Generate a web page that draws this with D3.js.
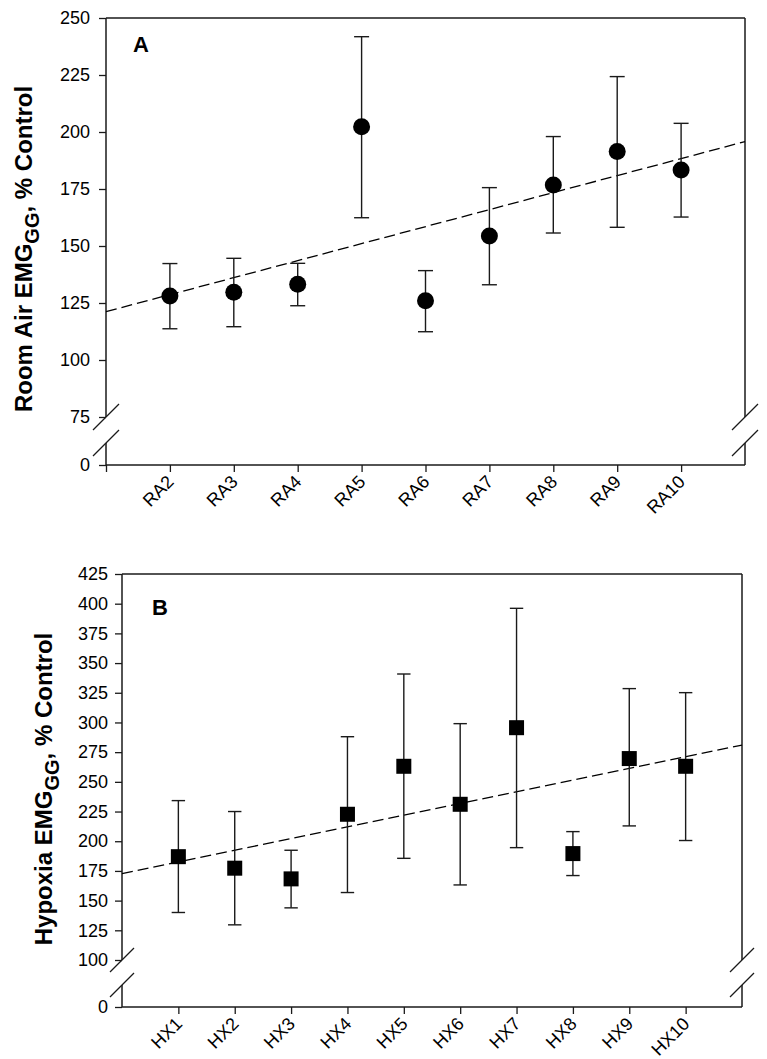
<!DOCTYPE html>
<html>
<head>
<meta charset="utf-8">
<script src="https://cdn.jsdelivr.net/npm/d3@7"></script>
<style>
  html, body { margin: 0; padding: 0; background: #fff; }
  svg { display: block; }
  text { font-family: Arial, "Liberation Sans", sans-serif; fill: #000; }
</style>
</head>
<body>
<svg id="chart" width="767" height="1059"></svg>
<script>
// ---------- Data ----------
const categoriesA = ["RA2","RA3","RA4","RA5","RA6","RA7","RA8","RA9","RA10"];
const meansA  = [128.1, 129.7, 133.2, 202.3, 126.0, 154.4, 176.8, 191.4, 183.3];
const upperA  = [142.3, 144.6, 142.4, 241.8, 139.2, 175.6, 198.0, 224.3, 203.8];
const lowerA  = [113.7, 114.6, 123.8, 162.4, 112.4, 133.0, 155.7, 158.2, 162.7];
const trendA  = [121.2, 195.8];          // dashed line values at x = 0 and x = 10
const yTicksA = [75, 100, 125, 150, 175, 200, 225, 250];

const categoriesB = ["HX1","HX2","HX3","HX4","HX5","HX6","HX7","HX8","HX9","HX10"];
const meansB  = [187.0, 177.3, 168.3, 222.7, 263.1, 231.1, 295.6, 189.6, 269.6, 263.1];
const upperB  = [234.2, 225.0, 192.4, 288.0, 340.8, 299.0, 396.1, 208.1, 328.5, 325.1];
const lowerB  = [140.0, 129.6, 143.9, 156.8, 185.6, 163.2, 194.6, 171.1, 212.9, 200.6];
const trendB  = [172.7, 281.0];          // dashed line values at x = 0 and x = 11
const yTicksB = [100, 125, 150, 175, 200, 225, 250, 275, 300, 325, 350, 375, 400, 425];

const svg = d3.select("#chart");
const ink = "#1a1a1a";
const FONT = "Arial, 'Liberation Sans', sans-serif";

function panel(cfg) {
  const g = svg.append("g");
  const { x, y, y0, cats, means, upper, lower, trend, yTicks, breakVal } = cfg;
  const [xl, xr] = x.range();
  const yTop = y.range()[1];
  const yBot = y0(0);

  // frame: top, bottom, left/right with break
  g.append("line").attr("x1", xl).attr("x2", xr).attr("y1", yTop).attr("y2", yTop)
    .attr("stroke", ink).attr("stroke-width", 1.5);
  g.append("line").attr("x1", xl).attr("x2", xr).attr("y1", yBot).attr("y2", yBot)
    .attr("stroke", ink).attr("stroke-width", 1.5);
  [xl, xr].forEach(xx => {
    g.append("line").attr("x1", xx).attr("x2", xx).attr("y1", yTop).attr("y2", y(breakVal))
      .attr("stroke", ink).attr("stroke-width", 1.5);
    g.append("line").attr("x1", xx).attr("x2", xx).attr("y1", y0(breakVal)).attr("y2", yBot)
      .attr("stroke", ink).attr("stroke-width", 1.5);
    [y(breakVal), y0(breakVal)].forEach(yy => {
      g.append("line").attr("x1", xx - cfg.slash).attr("y1", yy + cfg.slash)
        .attr("x2", xx + cfg.slash).attr("y2", yy - cfg.slash)
        .attr("stroke", ink).attr("stroke-width", 1.3);
    });
  });

  // y axis (upper segment)
  const ay = g.append("g").attr("transform", `translate(${xl},0)`)
    .call(d3.axisLeft(y).tickValues(yTicks).tickSize(7).tickPadding(cfg.pad).tickFormat(d3.format("d")));
  // y axis (lower segment, 0)
  const ay0 = g.append("g").attr("transform", `translate(${xl},0)`)
    .call(d3.axisLeft(y0).tickValues([0]).tickSize(7).tickPadding(cfg.pad).tickFormat(d3.format("d")));
  [ay, ay0].forEach(a => {
    a.attr("font-size", null).attr("font-family", null);
    a.select(".domain").remove();
    a.selectAll(".tick line").attr("stroke", ink).attr("stroke-width", 1.3);
    a.selectAll(".tick text").style("font-size", "18px").style("font-family", FONT).attr("fill", "#000");
  });

  // x axis
  const ax = g.append("g").attr("transform", `translate(0,${yBot})`)
    .call(d3.axisBottom(x).tickValues(cfg.xTickVals).tickSize(7).tickFormat(""));
  ax.select(".domain").remove();
  ax.selectAll(".tick line").attr("stroke", ink).attr("stroke-width", 1.3);

  // rotated category labels
  g.append("g").selectAll("text").data(cats).join("text")
    .attr("transform", (d, i) => `translate(${x(i + 1) + 5},${yBot + 18}) rotate(-45)`)
    .attr("text-anchor", "end")
    .style("font-size", "18px").style("font-family", FONT)
    .text(d => d);

  // trend line
  const xMax = x.domain()[1];
  g.append("line")
    .attr("x1", x(0)).attr("y1", y(trend[0]))
    .attr("x2", x(xMax)).attr("y2", y(trend[1]))
    .attr("stroke", "#000").attr("stroke-width", 1.3).attr("stroke-dasharray", "11,5");

  // error bars
  const eb = g.append("g").selectAll("g").data(means).join("g");
  eb.append("line")
    .attr("x1", (d, i) => x(i + 1)).attr("x2", (d, i) => x(i + 1))
    .attr("y1", (d, i) => y(upper[i])).attr("y2", (d, i) => y(lower[i]))
    .attr("stroke", ink).attr("stroke-width", 1.4);
  eb.append("line")
    .attr("x1", (d, i) => x(i + 1) - cfg.cap).attr("x2", (d, i) => x(i + 1) + cfg.cap)
    .attr("y1", (d, i) => y(upper[i])).attr("y2", (d, i) => y(upper[i]))
    .attr("stroke", ink).attr("stroke-width", 1.4);
  eb.append("line")
    .attr("x1", (d, i) => x(i + 1) - cfg.cap).attr("x2", (d, i) => x(i + 1) + cfg.cap)
    .attr("y1", (d, i) => y(lower[i])).attr("y2", (d, i) => y(lower[i]))
    .attr("stroke", ink).attr("stroke-width", 1.4);

  // markers
  if (cfg.marker === "circle") {
    g.append("g").selectAll("circle").data(means).join("circle")
      .attr("cx", (d, i) => x(i + 1)).attr("cy", d => y(d)).attr("r", 8.5).attr("fill", "#000");
  } else {
    g.append("g").selectAll("rect").data(means).join("rect")
      .attr("x", (d, i) => x(i + 1) - 7.5).attr("y", d => y(d) - 7.5)
      .attr("width", 15).attr("height", 15).attr("fill", "#000");
  }

  // panel letter
  g.append("text").attr("x", cfg.letterPos[0]).attr("y", cfg.letterPos[1])
    .style("font-size", "22px").attr("font-weight", "bold").text(cfg.letter);

  // y title
  const t = g.append("text")
    .attr("transform", `translate(${cfg.titlePos[0]},${cfg.titlePos[1]}) rotate(-90)`)
    .attr("text-anchor", "middle").style("font-size", "24px").attr("font-weight", "bold");
  t.append("tspan").text(cfg.title[0]);
  t.append("tspan").style("font-size", "20px").attr("dy", 7).text("GG");
  t.append("tspan").attr("dy", -7).text(cfg.title[1]);
}

// Panel A
const xA = d3.scaleLinear().domain([0, 10]).range([106, 745]);
const yA = d3.scaleLinear().domain([75, 250]).range([417, 18]);
const yA0 = d3.scaleLinear().domain([0, 75]).range([465, 443]);
panel({
  x: xA, y: yA, y0: yA0, cats: categoriesA, means: meansA, upper: upperA, lower: lowerA,
  trend: trendA, yTicks: yTicksA, breakVal: 75, slash: 13, cap: 7.5, marker: "circle",
  xTickVals: d3.range(0, categoriesA.length + 1), pad: 9,
  letter: "A", letterPos: [133, 52], titlePos: [32, 249],
  title: ["Room Air EMG", ", % Control"]
});

// Panel B
const xB = d3.scaleLinear().domain([0, 11]).range([122, 742]);
const yB = d3.scaleLinear().domain([100, 425]).range([960, 574]);
const yB0 = d3.scaleLinear().domain([0, 100]).range([1007, 985]);
panel({
  x: xB, y: yB, y0: yB0, cats: categoriesB, means: meansB, upper: upperB, lower: lowerB,
  trend: trendB, yTicks: yTicksB, breakVal: 100, slash: 12, cap: 6.7, marker: "square",
  xTickVals: d3.range(1, categoriesB.length + 1), pad: 7,
  letter: "B", letterPos: [152, 615], titlePos: [52, 789],
  title: ["Hypoxia EMG", ", % Control"]
});
</script>
</body>
</html>
